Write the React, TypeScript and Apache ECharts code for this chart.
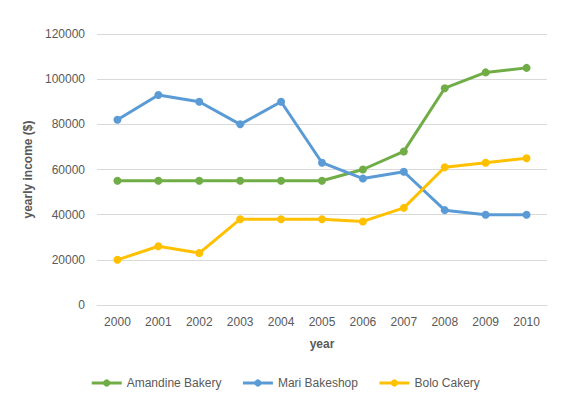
import React, { useEffect, useRef } from 'react';
import * as echarts from 'echarts';

const years = ['2000', '2001', '2002', '2003', '2004', '2005', '2006', '2007', '2008', '2009', '2010'];
const amandine = [55000, 55000, 55000, 55000, 55000, 55000, 60000, 68000, 96000, 103000, 105000];
const mari = [82000, 93000, 90000, 80000, 90000, 63000, 56000, 59000, 42000, 40000, 40000];
const bolo = [20000, 26000, 23000, 38000, 38000, 38000, 37000, 43000, 61000, 63000, 65000];

const FONT = 'Liberation Sans';

const lineSeries = (name: string, data: number[], color: string) => ({
  name,
  type: 'line',
  data,
  symbol: 'circle',
  symbolSize: 8,
  color,
  lineStyle: { width: 3, color },
  itemStyle: { color },
});

const App: React.FC = () => {
  const chartRef = useRef<HTMLDivElement>(null);

  useEffect(() => {
    const chart = echarts.init(chartRef.current!, undefined, { renderer: 'svg' });

    chart.setOption({
      animation: false,
      textStyle: { fontFamily: FONT },
      grid: { left: 97, right: 23, top: 34, bottom: 103 },
      legend: {
        bottom: 14,
        left: 'center',
        itemWidth: 30,
        itemHeight: 9,
        itemGap: 20,
        lineStyle: { width: 3 },
        textStyle: { color: '#595959', fontSize: 12, fontFamily: FONT },
        data: ['Amandine Bakery', 'Mari Bakeshop', 'Bolo Cakery'],
      },
      xAxis: {
        type: 'category',
        data: years,
        name: 'year',
        nameLocation: 'middle',
        nameGap: 33,
        nameTextStyle: { fontWeight: 'bold', color: '#595959', fontSize: 12, fontFamily: FONT },
        axisLine: { lineStyle: { color: '#d9d9d9', width: 1 } },
        axisTick: { show: false },
        axisLabel: { color: '#595959', fontSize: 12, margin: 11, fontFamily: FONT },
      },
      yAxis: {
        type: 'value',
        min: 0,
        max: 120000,
        interval: 20000,
        name: 'yearly income ($)',
        nameLocation: 'middle',
        nameGap: 56,
        nameTextStyle: { fontWeight: 'bold', color: '#595959', fontSize: 12, fontFamily: FONT },
        axisLine: { show: false },
        axisTick: { show: false },
        axisLabel: {
          color: '#595959',
          fontSize: 12,
          margin: 12,
          fontFamily: FONT,
          formatter: (v: number) => String(v),
        },
        splitLine: { lineStyle: { color: '#d9d9d9', width: 1 } },
      },
      series: [
        lineSeries('Amandine Bakery', amandine, '#70AD47'),
        lineSeries('Mari Bakeshop', mari, '#5B9BD5'),
        lineSeries('Bolo Cakery', bolo, '#FFC000'),
      ],
    });

    return () => {
      chart.dispose();
    };
  }, []);

  return (
    <div
      ref={chartRef}
      style={{ position: 'fixed', left: 0, top: 0, width: '570px', height: '408px', background: '#fff' }}
    />
  );
};

export default App;
